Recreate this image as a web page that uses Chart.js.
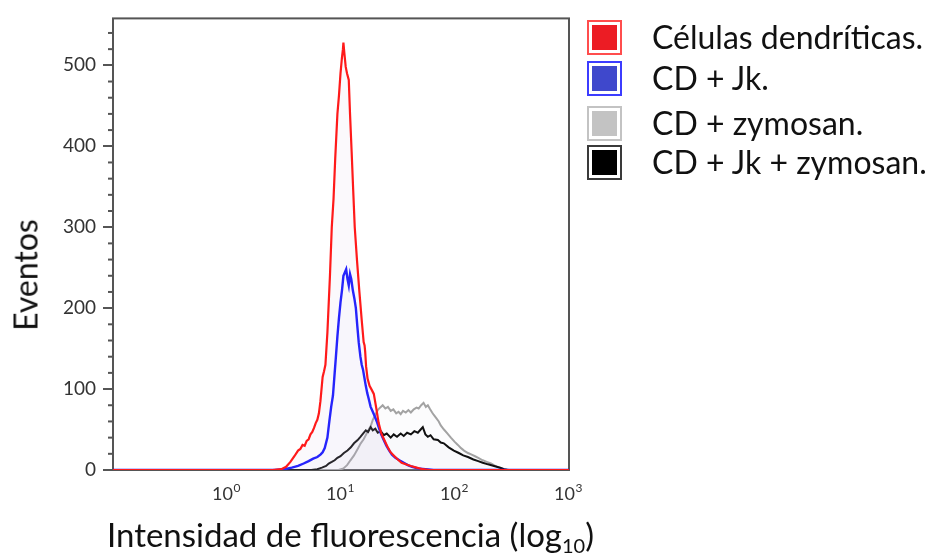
<!DOCTYPE html>
<html>
<head>
<meta charset="utf-8">
<script src="https://cdn.jsdelivr.net/npm/chart.js@4.4.1/dist/chart.umd.min.js"></script>
<style>
  body { margin: 0; background: #fff; }
  #wrap { position: relative; width: 929px; height: 560px; font-family: Lato, sans-serif; color: #111; }
  canvas { position: absolute; left: 0; top: 0; }
  #ytitle { position: absolute; left: 25px; top: 275px; font-size: 32px; white-space: nowrap;
            transform: translate(-50%, -50%) rotate(-90deg); }
  #xtitle { position: absolute; left: 107px; top: 518px; font-size: 33px; white-space: nowrap; line-height: 33px; }
  #xtitle sub { font-size: 20px; vertical-align: -6px; line-height: 0; }
  .lg-box { position: absolute; width: 31px; height: 31px; border: 2px solid; background: #fff; }
  .lg-box div { position: absolute; left: 3px; top: 3px; width: 25px; height: 25px; }
  .lg-text { position: absolute; font-size: 32px; white-space: nowrap; line-height: 34px; }
</style>
</head>
<body>
<div id="wrap">
  <canvas id="chart" width="929" height="560"></canvas>
  <div id="ytitle">Eventos</div>
  <div id="xtitle">Intensidad de fluorescencia (log<sub>10</sub>)</div>
  <div id="legend"></div>
</div>
<script>
// fluorescence intensity (x) and event counts (y)
const redX = [0.1, 2.5, 3.0, 3.3, 3.6, 3.9, 4.2, 4.4, 4.6, 4.8, 5.0, 5.2, 5.4, 5.6, 5.8, 6.0, 6.2, 6.4, 6.6, 6.9, 7.1, 7.3, 7.6, 8.0, 8.3, 8.6, 8.9, 9.3, 9.6, 9.9, 10.2, 10.4, 10.5, 10.7, 11.0, 11.3, 11.7, 12.0, 12.4, 12.8, 13.2, 13.8, 14.5, 15.2, 15.8, 16.1, 16.3, 16.6, 17.1, 17.8, 18.6, 19.4, 20.3, 21.4, 22.6, 24.0, 25.5, 27.2, 29.0, 31.5, 34.0, 37.0, 41.0, 46.0, 52.0, 60.0, 1000];
const redY = [0, 0, 1, 4, 10, 17, 24, 26, 31, 30, 36, 38, 44, 47, 52, 58, 62, 70, 85, 115, 122, 130, 170, 240, 300, 335, 385, 440, 463, 490, 510, 520, 528, 515, 498, 490, 482, 440, 393, 345, 300, 260, 220, 185, 158, 154, 146, 128, 113, 104, 99, 94, 78, 58, 45, 37, 29, 22, 18, 13, 9, 7, 5, 3, 1, 0, 0];

const blueX = [0.1, 2.6, 3.2, 3.7, 4.2, 4.7, 5.2, 5.7, 6.2, 6.6, 6.9, 7.2, 7.6, 7.9, 8.2, 8.5, 8.8, 9.0, 9.3, 9.6, 9.9, 10.2, 10.5, 10.8, 11.1, 11.4, 11.7, 12.0, 12.3, 12.7, 13.1, 13.5, 13.9, 14.3, 14.8, 15.2, 15.6, 16.0, 16.5, 17.0, 17.5, 18.2, 19.0, 19.8, 20.6, 21.5, 22.5, 23.7, 25.0, 26.5, 28.0, 30.0, 32.5, 35.5, 38.5, 42.0, 47.0, 55.0, 65.0, 1000];
const blueY = [0, 0, 1, 3, 5, 8, 11, 14, 16, 19, 22, 27, 40, 60, 78, 92, 120, 138, 165, 188, 207, 222, 240, 244, 248, 236, 228, 242, 236, 222, 212, 200, 178, 158, 140, 130, 124, 115, 104, 95, 88, 78, 72, 66, 60, 52, 44, 37, 30, 24, 19, 15, 12, 9, 6, 4, 2, 1, 0, 0];

const grayX = [0.1, 9.5, 10.5, 11.3, 12.1, 13.0, 14.0, 14.9, 15.8, 16.8, 17.5, 18.2, 19.0, 20.0, 21.0, 22.0, 23.2, 24.5, 25.8, 27.3, 28.8, 30.5, 32.0, 33.4, 35.0, 37.0, 39.0, 41.0, 43.5, 46.0, 48.0, 50.5, 53.0, 55.5, 57.8, 60.5, 63.0, 65.2, 68.5, 72.0, 75.0, 80, 86, 92, 99, 106, 113, 120, 130, 140, 150, 160, 175, 190, 207, 225, 245, 270, 300, 1000];
const grayY = [0, 0, 2, 6, 12, 18, 26, 33, 38, 45, 50, 54, 62, 68, 74, 77, 80, 76, 78, 73, 75, 70, 72, 69, 73, 71, 74, 71, 75, 77, 76, 80, 83, 78, 80, 75, 71, 68, 64, 60, 55, 50, 45, 40, 35, 31, 27, 24, 21, 19, 17, 15, 12, 10, 8, 5, 3, 1, 0, 0];

const blackX = [0.1, 5.5, 6.2, 6.8, 7.4, 7.8, 8.3, 8.8, 9.3, 9.9, 10.6, 11.4, 12.2, 13.0, 14.0, 14.8, 15.8, 16.5, 17.3, 18.2, 19.0, 20.0, 21.0, 22.3, 23.7, 25.2, 27.3, 29.0, 31.0, 33.4, 35.5, 38.0, 41.0, 44.0, 47.2, 50.0, 52.2, 55.0, 57.8, 61.0, 65.0, 70.8, 75.0, 79.8, 88, 97.7, 108, 118, 130, 145, 160, 175, 195, 220, 245, 270, 290, 1000];
const blackY = [0, 0, 1, 3, 5, 8, 10, 12, 15, 17, 21, 24, 28, 33, 37, 41, 46, 49, 47, 53, 49, 51, 46, 48, 43, 45, 40, 44, 41, 45, 42, 46, 44, 48, 46, 50, 53, 44, 41, 43, 38, 37, 34, 33, 28, 24, 21, 18, 16, 13, 11, 9, 7, 5, 3, 1, 0, 0];

const seriesNames = ['Células dendríticas.', 'CD + Jk.', 'CD + zymosan.', 'CD + Jk + zymosan.'];
const xTickValues = [1, 10, 100, 1000];
const xTickExponents = ['0', '1', '2', '3'];

const toPoints = (xs, ys) => xs.map((x, i) => ({ x, y: ys[i] }));

const styles = [
  { line: '#ff1a1a', fill: 'rgba(200,170,215,0.07)', width: 2.2, order: 1, box: '#ff4d4d', inner: '#ec1c24' },
  { line: '#1a1aff', fill: 'rgba(180,180,230,0.06)', width: 2.4, order: 2, box: '#3c3cff', inner: '#3f48cc' },
  { line: '#a3a3a3', fill: 'rgba(205,200,215,0.05)', width: 2, order: 4, box: '#c3c3c3', inner: '#c3c3c3' },
  { line: '#111111', fill: 'rgba(205,200,215,0.05)', width: 2, order: 3, box: '#3a3a3a', inner: '#000000' },
];
const seriesData = [
  toPoints(redX, redY),
  toPoints(blueX, blueY),
  toPoints(grayX, grayY),
  toPoints(blackX, blackY),
];

const framePlugin = {
  id: 'frame',
  beforeDatasetsDraw(chart) {
    const { ctx, chartArea: a } = chart;
    ctx.save();
    ctx.strokeStyle = '#555';
    ctx.lineWidth = 2;
    ctx.strokeRect(a.left, a.top, a.right - a.left, a.bottom - a.top);

    // short minor ticks on the count axis
    const y = chart.scales.y;
    for (let v = 20; v < y.max; v += 20) {
      if (v % 100 === 0) continue;
      const py = y.getPixelForValue(v);
      ctx.beginPath();
      ctx.moveTo(a.left - 5, py);
      ctx.lineTo(a.left, py);
      ctx.stroke();
    }

    // decade labels as 10 with a raised exponent
    const x = chart.scales.x;
    ctx.fillStyle = '#333';
    ctx.textAlign = 'left';
    ctx.textBaseline = 'alphabetic';
    xTickValues.forEach((v, i) => {
      const px = x.getPixelForValue(v);
      ctx.font = '18px Lato';
      const w1 = ctx.measureText('10').width;
      ctx.font = '12px Lato';
      const w2 = ctx.measureText(xTickExponents[i]).width;
      const left = px - (w1 + w2) / 2 - 1;
      ctx.font = '18px Lato';
      ctx.fillText('10', left, 500);
      ctx.font = '12px Lato';
      ctx.fillText(xTickExponents[i], left + w1 + 0.5, 492);
    });
    ctx.restore();
  },
};

new Chart(document.getElementById('chart'), {
  type: 'line',
  data: {
    datasets: seriesData.map((pts, i) => ({
      label: seriesNames[i],
      data: pts,
      borderColor: styles[i].line,
      backgroundColor: styles[i].fill,
      borderWidth: styles[i].width,
      fill: 'origin',
      order: styles[i].order,
      pointRadius: 0,
      tension: 0,
    })),
  },
  options: {
    responsive: false,
    animation: false,
    devicePixelRatio: 1,
    layout: { padding: { left: 0, top: 12, right: 360, bottom: 0 } },
    plugins: { legend: { display: false }, tooltip: { enabled: false } },
    scales: {
      x: {
        type: 'logarithmic',
        min: 0.1,
        max: 1000,
        ticks: { display: false },
        grid: { display: false },
        border: { display: false },
        afterFit(scale) { scale.height = 90; },
      },
      y: {
        min: 0,
        max: 558,
        ticks: { stepSize: 100, includeBounds: false, color: '#333', padding: 7, font: { family: 'Lato', size: 19 } },
        grid: { drawOnChartArea: false, tickLength: 10, color: '#555', lineWidth: 2 },
        border: { display: false },
        afterFit(scale) { scale.width = 113; },
      },
    },
  },
  plugins: [framePlugin],
});

// legend drawn beside the plot
const legend = document.getElementById('legend');
const rowTops = [20, 61, 106, 145];
seriesNames.forEach((name, i) => {
  const box = document.createElement('div');
  box.className = 'lg-box';
  box.style.left = '587px';
  box.style.top = rowTops[i] + 'px';
  box.style.borderColor = styles[i].box;
  const inner = document.createElement('div');
  inner.style.background = styles[i].inner;
  box.appendChild(inner);
  legend.appendChild(box);

  const text = document.createElement('div');
  text.className = 'lg-text';
  text.style.left = '652px';
  text.style.top = rowTops[i] + 'px';
  text.textContent = name;
  legend.appendChild(text);
});
</script>
</body>
</html>
